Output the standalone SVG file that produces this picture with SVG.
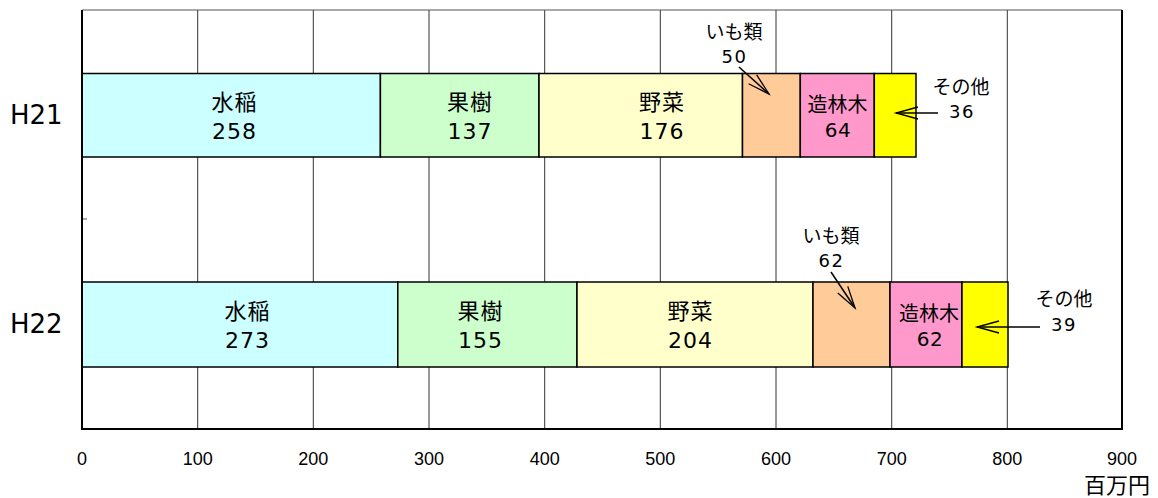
<svg xmlns="http://www.w3.org/2000/svg" width="1158" height="498" viewBox="0 0 1158 498">
<style>
text{font-family:"Liberation Sans","Noto Sans CJK JP",sans-serif;fill:#000;text-anchor:middle}
.grid{stroke:#333;stroke-width:1}
.seg{stroke:#000;stroke-width:1.5}
.cj{font-size:22px;letter-spacing:1px}
.nm{font-family:"DejaVu Sans",sans-serif;font-size:22px;letter-spacing:1px}
.cs{font-size:20px}
.ns{font-family:"DejaVu Sans",sans-serif;font-size:20px;letter-spacing:0.5px}
.ocj{font-size:19px}
.onm{font-family:"DejaVu Sans",sans-serif;font-size:18px;letter-spacing:1.5px}
.tick{font-size:18px}
.cat{font-family:"DejaVu Sans",sans-serif;font-size:26px;text-anchor:start}
.lead{stroke:#000;stroke-width:1.5;fill:none}
</style>
<defs>
<marker id="arr" markerUnits="userSpaceOnUse" markerWidth="26" markerHeight="14" refX="23" refY="7" orient="auto">
<path d="M1,1 L23,7 L1,13" fill="none" stroke="#000" stroke-width="1.3"/>
</marker>
</defs>
<rect width="1158" height="498" fill="#fff"/>
<g id="grid">
<line class="grid" x1="197.7" y1="10" x2="197.7" y2="429"/>
<line class="grid" x1="313.3" y1="10" x2="313.3" y2="429"/>
<line class="grid" x1="429" y1="10" x2="429" y2="429"/>
<line class="grid" x1="544.7" y1="10" x2="544.7" y2="429"/>
<line class="grid" x1="660.3" y1="10" x2="660.3" y2="429"/>
<line class="grid" x1="776" y1="10" x2="776" y2="429"/>
<line class="grid" x1="891.7" y1="10" x2="891.7" y2="429"/>
<line class="grid" x1="1007.3" y1="10" x2="1007.3" y2="429"/>
<line x1="82" y1="10" x2="1122" y2="10" stroke="#555" stroke-width="1"/>
<line x1="1122" y1="10" x2="1122" y2="429" stroke="#000" stroke-width="2"/>
<line x1="82" y1="219" x2="87" y2="219" stroke="#555" stroke-width="1"/>
</g>
<g id="bar-H21">
<rect class="seg" x="82" y="73.5" width="298.4" height="83.5" fill="#CCFFFF"/>
<rect class="seg" x="380.4" y="73.5" width="158.6" height="83.5" fill="#CCFFCC"/>
<rect class="seg" x="539" y="73.5" width="203.5" height="83.5" fill="#FFFFCC"/>
<rect class="seg" x="742.5" y="73.5" width="57.8" height="83.5" fill="#FFCC99"/>
<rect class="seg" x="800.3" y="73.5" width="74" height="83.5" fill="#FF99CC"/>
<rect class="seg" x="874.3" y="73.5" width="41.7" height="83.5" fill="#FFFF00"/>
</g>
<g id="bar-H22">
<rect class="seg" x="82" y="282" width="315.8" height="85" fill="#CCFFFF"/>
<rect class="seg" x="397.8" y="282" width="179.2" height="85" fill="#CCFFCC"/>
<rect class="seg" x="577" y="282" width="236" height="85" fill="#FFFFCC"/>
<rect class="seg" x="813" y="282" width="77" height="85" fill="#FFCC99"/>
<rect class="seg" x="890" y="282" width="72" height="85" fill="#FF99CC"/>
<rect class="seg" x="962" y="282" width="46" height="85" fill="#FFFF00"/>
</g>
<g id="axes">
<line x1="82" y1="10" x2="82" y2="429" stroke="#000" stroke-width="2"/>
<line x1="81" y1="429" x2="1123" y2="429" stroke="#000" stroke-width="2"/>
</g>
<g id="labels-H21">
<text class="cat" x="10" y="124">H21</text>
<text class="cj" x="234.5" y="109.5">水稲</text>
<text class="nm" x="234.5" y="139">258</text>
<text class="cj" x="470" y="109.5">果樹</text>
<text class="nm" x="470" y="139">137</text>
<text class="cj" x="662" y="109.5">野菜</text>
<text class="nm" x="662" y="139">176</text>
<text class="cs" x="837.5" y="112">造林木</text>
<text class="ns" x="838" y="137">64</text>
<text class="ocj" x="734" y="39">いも類</text>
<text class="onm" x="734.5" y="63">50</text>
<text class="ocj" x="961" y="94">その他</text>
<text class="onm" x="962" y="118">36</text>
</g>
<g id="labels-H22">
<text class="cat" x="10" y="333">H22</text>
<text class="cj" x="247.5" y="319">水稲</text>
<text class="nm" x="247.5" y="348">273</text>
<text class="cj" x="480.5" y="319">果樹</text>
<text class="nm" x="480.5" y="348">155</text>
<text class="cj" x="690.5" y="319">野菜</text>
<text class="nm" x="690.5" y="348">204</text>
<text class="cs" x="929" y="321">造林木</text>
<text class="ns" x="930" y="346">62</text>
<text class="ocj" x="831" y="243">いも類</text>
<text class="onm" x="831.5" y="267">62</text>
<text class="ocj" x="1064" y="306">その他</text>
<text class="onm" x="1064" y="331">39</text>
</g>
<g id="connectors">
<line class="lead" x1="739" y1="67" x2="769" y2="94" marker-end="url(#arr)"/>
<line class="lead" x1="938" y1="113" x2="896" y2="113" marker-end="url(#arr)"/>
<line class="lead" x1="831" y1="272" x2="855" y2="308" marker-end="url(#arr)"/>
<line class="lead" x1="1040" y1="327" x2="977" y2="327" marker-end="url(#arr)"/>
</g>
<g id="ticks">
<text class="tick" x="82" y="465">0</text>
<text class="tick" x="197.7" y="465">100</text>
<text class="tick" x="313.3" y="465">200</text>
<text class="tick" x="429" y="465">300</text>
<text class="tick" x="544.7" y="465">400</text>
<text class="tick" x="660.3" y="465">500</text>
<text class="tick" x="776" y="465">600</text>
<text class="tick" x="891.7" y="465">700</text>
<text class="tick" x="1007.3" y="465">800</text>
<text class="tick" x="1122" y="465">900</text>
<text x="1150" y="493" style="font-size:22px;text-anchor:end">百万円</text>
</g>
</svg>
